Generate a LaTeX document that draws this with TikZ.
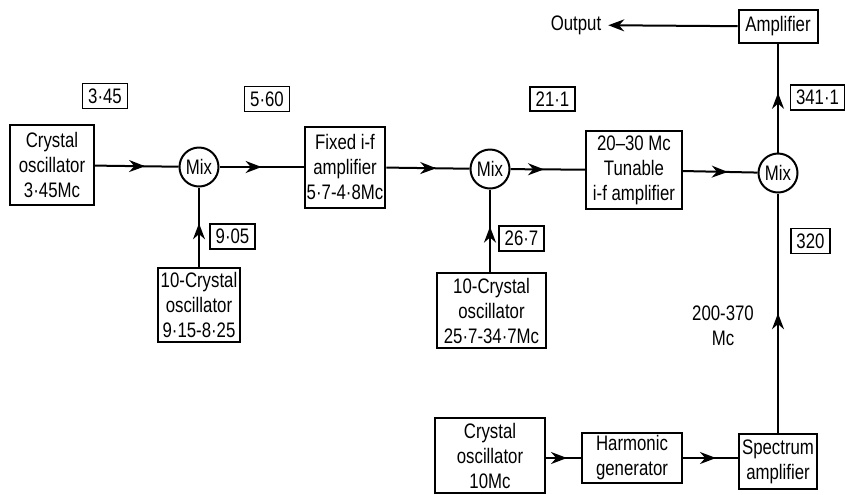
\documentclass[tikz,border=0pt]{standalone}
\usepackage{fontspec}
\setmainfont{Liberation Sans}[FakeStretch=0.8]
\usetikzlibrary{arrows.meta,decorations.markings}

\begin{document}
\begin{tikzpicture}[x=0.5pt,y=-0.5pt,
  font=\fontsize{10.5}{12.5}\selectfont,
  box/.style={draw,line width=1pt,align=center,inner sep=1pt},
  mix/.style={draw,circle,line width=1pt,minimum size=19.5pt,inner sep=0pt},
  tag/.style={draw,line width=0.9pt,inner xsep=2.8pt,inner ysep=2.5pt},
  w/.style={line width=1pt},
  fw/.style={w,postaction={decorate},
             decoration={markings,mark=at position #1 with {\arrow{Stealth[length=8pt,width=6pt]}}}},
  fw/.default=0.6]
  \useasboundingbox (0,0) rectangle (845,494);
  % top chain
  \node[box,minimum width=42pt,minimum height=40pt] (osc1) at (52,165) {Crystal\\oscillator\\3·45Mc};
  \node[mix] (mix1) at (199,167) {Mix};
  \node[box,minimum width=40pt,minimum height=40.5pt] (ifa) at (345,167) {Fixed i-f\\amplifier\\5·7-4·8Mc};
  \node[mix] (mix2) at (490,169) {Mix};
  \node[box,minimum width=48pt,minimum height=39pt] (tune) at (634,170) {20–30 Mc\\Tunable\\i-f amplifier};
  \node[mix] (mix3) at (778,173) {Mix};
  \node[box,minimum width=39.5pt,minimum height=16.5pt] (amp) at (778,26.5) {Amplifier};
  \node (out) at (576,25) {Output};
  % local oscillators
  \node[box,minimum width=41pt,minimum height=37pt] (xo1) at (199,305) {10-Crystal\\oscillator\\9·15-8·25};
  \node[box,minimum width=54.5pt,minimum height=37.5pt] (xo2) at (491.5,310.5) {10-Crystal\\oscillator\\25·7-34·7Mc};
  \node[box,minimum width=55pt,minimum height=37.5pt] (xo3) at (490,455.5) {Crystal\\oscillator\\10Mc};
  \node[box,minimum width=50pt,minimum height=25pt] (harm) at (632,458) {Harmonic\\generator};
  \node[box,minimum width=39pt,minimum height=27.5pt] (spec) at (778,461.5) {Spectrum\\amplifier};
  % frequencies
  \node[tag] (f1) at (105,96) {3·45};
  \node[tag] (f2) at (267,99) {5·60};
  \node[tag] (f3) at (552.5,99) {21·1};
  \node[tag] (f4) at (232.5,236.5) {9·05};
  \node[tag] (f5) at (521.5,238.5) {26·7};
  \node[tag] (f6) at (817.5,97.5) {341·1};
  \node[tag] (f7) at (810.5,241) {320};
  \node[align=center] (band) at (723,326) {200-370\\Mc};
  % signal flow
  \draw[fw] (osc1) -- (mix1);
  \draw[fw=0.5] (mix1) -- (ifa);
  \draw[fw] (ifa) -- (mix2);
  \draw[fw=0.45] (mix2) -- (tune);
  \draw[fw] (tune) -- (mix3);
  \draw[fw=0.55] (xo1) -- (mix1);
  \draw[fw=0.55] (mix2 |- xo2.north) -- (mix2);
  \draw[fw=0.5] (spec) -- (mix3);
  \draw[fw=0.55] (mix3) -- (amp);
  \draw[w,-{Stealth[length=8pt,width=6pt]}] (amp) -- (out);
  \draw[fw=0.6] (xo3.east |- harm) -- (harm);
  \draw[fw=0.6] (harm) -- (harm -| spec.west);
\end{tikzpicture}
\end{document}
